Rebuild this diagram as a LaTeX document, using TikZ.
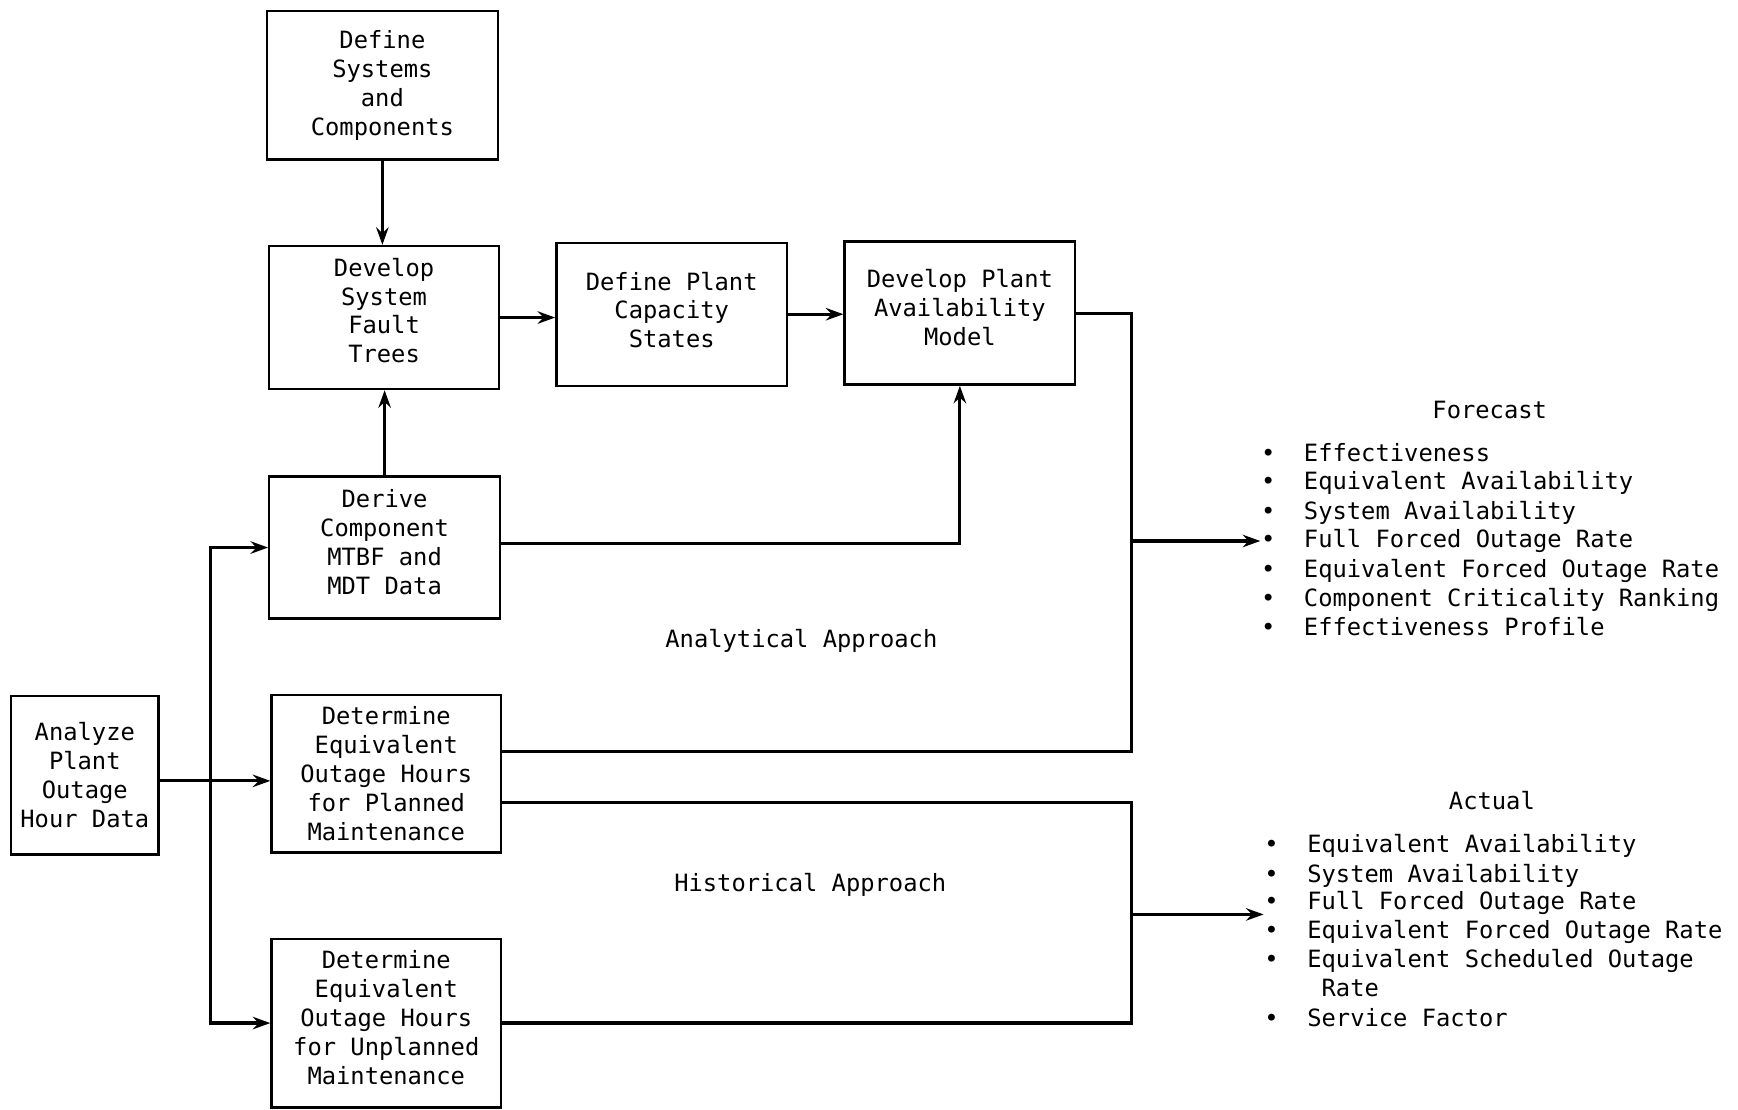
\documentclass[tikz,border=0pt]{standalone}
\usepackage{fontspec}
\setmonofont{DejaVu Sans Mono}
\usetikzlibrary{arrows.meta}
% bullet followed by two blank cells (monospaced)
\newcommand{\bul}{\makebox[11.02pt][l]{•}}

\begin{document}
\begin{tikzpicture}[x=0.01cm, y=-0.01cm,
    box/.style={draw, line width=0.6pt, align=center, inner sep=0pt,
        font=\ttfamily\fontsize{6.1}{7.4}\selectfont},
    txt/.style={font=\ttfamily\fontsize{6.1}{7.4}\selectfont, inner sep=0pt},
    itm/.style={txt, anchor=base west},
    wire/.style={line width=0.8pt},
    arrow/.style={wire, -{Stealth[length=4.5pt, width=3.2pt, inset=1.5pt]}}
]
\useasboundingbox (0,0) rectangle (1568,1001);

% === Analytical chain ===
\node[box, minimum width=2.08cm, minimum height=1.34cm] (defsys) at (345,77)
    {Define\\Systems\\and\\Components};
\node[box, minimum width=2.07cm, minimum height=1.29cm, text depth=0.13cm] (fault) at (346.5,286.5)
    {Develop\\System\\Fault\\Trees};
\node[box, minimum width=2.08cm, minimum height=1.29cm, text depth=0.08cm] (states) at (606,283.5)
    {Define Plant\\Capacity\\States};
\node[box, minimum width=2.08cm, minimum height=1.29cm, text depth=0.1cm] (model) at (866,282.5)
    {Develop Plant\\Availability\\Model};
\node[box, minimum width=2.08cm, minimum height=1.28cm, text depth=0.1cm] (mtbf) at (347,494)
    {Derive\\Component\\MTBF and\\MDT Data};

% === Data input and historical chain ===
\node[box, minimum width=1.33cm, minimum height=1.43cm] (analyze) at (76.5,699.5)
    {Analyze\\Plant\\Outage\\Hour Data};
\node[box, minimum width=2.07cm, minimum height=1.42cm] (planned) at (348.5,698)
    {Determine\\Equivalent\\Outage Hours\\for Planned\\Maintenance};
\node[box, minimum width=2.07cm, minimum height=1.52cm, text depth=0.1cm] (unplanned) at (348.5,923)
    {Determine\\Equivalent\\Outage Hours\\for Unplanned\\Maintenance};

% === Approach labels ===
\node[txt] (analytic) at (723,578) {Analytical Approach};
\node[txt] (historic) at (731,798) {Historical Approach};

% === Forecast list ===
\node[txt] (forecast) at (1344,370) {Forecast};
\node[itm] (fc1) at (1137,416) {\bul Effectiveness};
\node[itm] (fc2) at (1137,442) {\bul Equivalent Availability};
\node[itm] (fc3) at (1137,469) {\bul System Availability};
\node[itm] (fc4) at (1137,494) {\bul Full Forced Outage Rate};
\node[itm] (fc5) at (1137,521) {\bul Equivalent Forced Outage Rate};
\node[itm] (fc6) at (1137,547) {\bul Component Criticality Ranking};
\node[itm] (fc7) at (1137,573) {\bul Effectiveness Profile};

% === Actual list ===
\node[txt] (actual) at (1346,722) {Actual};
\node[itm] (ac1) at (1140,769) {\bul Equivalent Availability};
\node[itm] (ac2) at (1140,796) {\bul System Availability};
\node[itm] (ac3) at (1140,821) {\bul Full Forced Outage Rate};
\node[itm] (ac4) at (1140,847) {\bul Equivalent Forced Outage Rate};
\node[itm] (ac5) at (1140,873) {\bul Equivalent Scheduled Outage};
\node[itm] (ac6) at (1140,899) {\hspace{14.7pt}Rate};
\node[itm] (ac7) at (1140,926) {\bul Service Factor};

% === Connectors, analytical chain ===
\draw[arrow] (defsys.south) -- (defsys.south |- fault.north);
\draw[arrow] (mtbf.north) -- (mtbf.north |- fault.south);
\draw[arrow] (fault.east) -- (fault.east -| states.west);
\draw[arrow] (states.east) -- (states.east -| model.west);
\draw[arrow] ([yshift=0.04cm]mtbf.east) -| (model.south);

% === Left distribution bus ===
\coordinate (lbus) at (190,0);
\draw[arrow] ([yshift=-0.05cm]analyze.east) -- ([yshift=-0.05cm]analyze.east -| planned.west);
\draw[arrow] (lbus |- unplanned.west) |- (mtbf.west);
\draw[arrow] (lbus |- mtbf.west) |- (unplanned.west);

% === Right collecting buses ===
\coordinate (rbus) at (1021,0);
\coordinate (pA) at ([yshift=0.2cm]planned.east);
\coordinate (pB) at ([yshift=-0.26cm]planned.east);
\draw[wire] (model.east) -| (rbus |- pA) -- (pA);
\draw[wire] (pB) -| (rbus |- unplanned.east) -- (unplanned.east);
\draw[arrow] (rbus |- fc4.west) -- (fc4.west);
\coordinate (ajoin) at (1021,825);
\draw[arrow] (ajoin) -- (ajoin -| ac3.west);

\end{tikzpicture}
\end{document}
